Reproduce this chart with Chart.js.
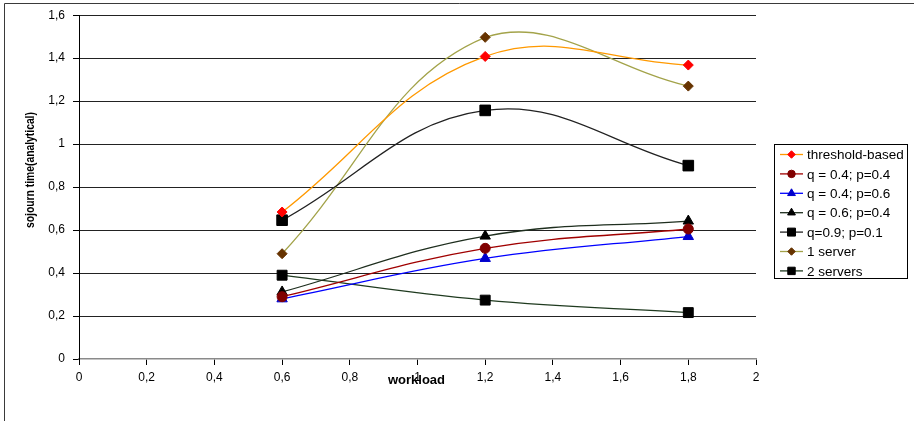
<!DOCTYPE html>
<html>
<head>
<meta charset="utf-8">
<script src="https://cdn.jsdelivr.net/npm/chart.js@4/dist/chart.umd.min.js"></script>
<style>
  html, body { margin: 0; padding: 0; background: #fff; }
  canvas { display: block; }
</style>
</head>
<body>
<canvas id="c" width="914" height="421"></canvas>
<script>
// Workload levels (x) shared by all series
const workload = [0.6, 1.2, 1.8];

// Mean sojourn time per strategy
const thresholdBased = [0.684, 1.408, 1.368];
const q04p04 = [0.29, 0.515, 0.605];
const q04p06 = [0.28, 0.468, 0.57];
const q06p04 = [0.312, 0.572, 0.642];
const q09p01 = [0.646, 1.157, 0.9];
const oneServer = [0.49, 1.497, 1.27];
const twoServers = [0.39, 0.274, 0.216];

const seriesNames = ['threshold-based', 'q = 0.4; p=0.4', 'q = 0.4; p=0.6', 'q = 0.6; p=0.4', 'q=0.9; p=0.1', '1 server', '2 servers'];

const yTicks = [0, 0.2, 0.4, 0.6, 0.8, 1, 1.2, 1.4, 1.6];
const xTicks = [0, 0.2, 0.4, 0.6, 0.8, 1, 1.2, 1.4, 1.6, 1.8, 2];

const FONT = '"Liberation Sans", Arial, sans-serif';
const fmt = v => String(+(+v).toFixed(1)).replace('.', ',');

function pts(vals) { return workload.map((x, i) => ({ x, y: vals[i] })); }

function series(label, vals, line, mark, style, r) {
  return {
    label, data: pts(vals),
    borderColor: line, backgroundColor: mark,
    pointBackgroundColor: mark, pointBorderColor: mark,
    pointStyle: style, pointRadius: r, pointHoverRadius: r, pointBorderWidth: 1,
    borderWidth: 1.3, tension: 0.4, fill: false
  };
}

const datasets = [
  series(seriesNames[0], thresholdBased, '#FF9900', '#FF0000', 'rectRot', 5),
  series(seriesNames[1], q04p04, '#A00000', '#800000', 'circle', 5),
  series(seriesNames[2], q04p06, '#0000FF', '#0000CC', 'triangle', 6),
  series(seriesNames[3], q06p04, '#1E2E1E', '#000000', 'triangle', 6),
  series(seriesNames[4], q09p01, '#222222', '#000000', 'rect', 7.5),
  series(seriesNames[5], oneServer, '#A3A34A', '#663300', 'rectRot', 5),
  series(seriesNames[6], twoServers, '#1F3A1F', '#000000', 'rect', 7)
];

// Frame, axis titles and boxed legend
const decor = {
  id: 'decor',
  beforeDraw(chart) {
    const ctx = chart.ctx;
    ctx.save();
    ctx.fillStyle = '#fff';
    ctx.fillRect(0, 0, chart.width, chart.height);
    ctx.restore();
  },
  afterDraw(chart) {
    const ctx = chart.ctx;
    const xs = chart.scales.x;
    ctx.save();
    // outer frame (left and top edges)
    ctx.strokeStyle = '#3a3a3a';
    ctx.lineWidth = 1;
    ctx.beginPath();
    ctx.moveTo(4.5, 421); ctx.lineTo(4.5, 3.5); ctx.lineTo(914, 3.5);
    ctx.stroke();

    // y axis title, slightly condensed along its length
    ctx.fillStyle = '#000';
    ctx.font = 'bold 12px ' + FONT;
    ctx.textAlign = 'center';
    ctx.textBaseline = 'middle';
    ctx.save();
    ctx.translate(31, 170);
    ctx.rotate(-Math.PI / 2);
    ctx.scale(0.86, 1);
    ctx.fillText('sojourn time(analytical)', 0, 0);
    ctx.restore();

    // x axis title, sitting on the tick-label row
    ctx.font = 'bold 13px ' + FONT;
    ctx.fillText('workload', xs.getPixelForValue(1) - 1, 380);

    // legend box
    const lx = 774, ly = 144, lw = 133, lh = 134;
    ctx.strokeStyle = '#000';
    ctx.strokeRect(lx + 0.5, ly + 0.5, lw, lh);
    ctx.font = '13.5px ' + FONT;
    ctx.textAlign = 'left';
    chart.data.datasets.forEach((ds, i) => {
      const y = 154.5 + i * 19.4;
      ctx.strokeStyle = ds.borderColor;
      ctx.lineWidth = 1.3;
      ctx.beginPath();
      ctx.moveTo(780, y); ctx.lineTo(803, y);
      ctx.stroke();
      ctx.fillStyle = ds.pointBackgroundColor;
      ctx.strokeStyle = ds.pointBorderColor;
      ctx.lineWidth = 1;
      Chart.helpers.drawPoint(ctx, {
        pointStyle: ds.pointStyle, rotation: 0, borderWidth: 1,
        radius: ds.pointRadius * 0.75
      }, 791.5, y);
      ctx.fillStyle = '#000';
      ctx.fillText(ds.label, 807, y + 1);
    });
    ctx.restore();
  }
};

new Chart(document.getElementById('c'), {
  type: 'line',
  data: { datasets },
  plugins: [decor],
  options: {
    responsive: false,
    animation: false,
    events: [],
    layout: { padding: { left: 0, top: 15, right: 158, bottom: 32 } },
    plugins: { legend: { display: false }, tooltip: { enabled: false } },
    scales: {
      x: {
        type: 'linear', min: 0, max: 2,
        afterBuildTicks(s) { s.ticks = xTicks.map(v => ({ value: v })); },
        afterFit(s) { s.height = 30; },
        border: { color: '#8a8a8a', width: 1.5 },
        grid: { drawOnChartArea: false, drawTicks: true, tickLength: 6, tickColor: '#000' },
        ticks: { callback: fmt, maxRotation: 0, autoSkip: false, padding: 5, color: '#000', font: { family: FONT, size: 12 } }
      },
      y: {
        type: 'linear', min: 0, max: 1.6,
        afterBuildTicks(s) { s.ticks = yTicks.map(v => ({ value: v })); },
        afterFit(s) { s.width = 79; },
        border: { color: '#000', width: 1 },
        grid: {
          color: ctx => ctx.tick && ctx.tick.value === 0 ? 'rgba(0,0,0,0)' : '#222',
          tickColor: '#000', tickLength: 6, lineWidth: 1
        },
        ticks: { callback: fmt, padding: 8, color: '#000', font: { family: FONT, size: 12 } }
      }
    }
  }
});
</script>
</body>
</html>
